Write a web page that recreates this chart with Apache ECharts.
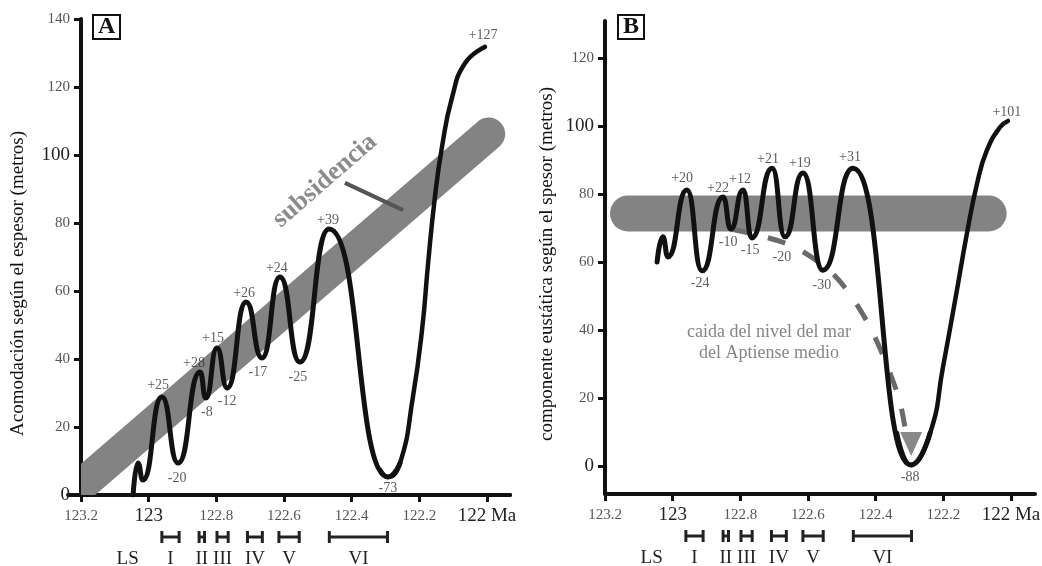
<!DOCTYPE html>
<html>
<head>
<meta charset="utf-8">
<script src="https://cdn.jsdelivr.net/npm/echarts@6/dist/echarts.min.js"></script>
<style>
html, body { margin: 0; padding: 0; background: #fff; }
#chart { width: 1042px; height: 566px; }
</style>
</head>
<body>
<div id="chart"></div>
<script>
// eje de edades (Ma) y marcas
const xTicks = [123.2, 123, 122.8, 122.6, 122.4, 122.2, 122];
const yTicksA = [0, 20, 40, 60, 80, 100, 120, 140];
const yTicksB = [0, 20, 40, 60, 80, 100, 120];

// A: acomodacion (picos y valles), luego la subida final
const curveA = [[123.046, 0], [123.032, 9.4], [123.017, 4.4], [122.961, 28.8], [122.913, 9.4],
  [122.848, 36.2], [122.831, 28.5], [122.798, 43.2], [122.768, 31.5], [122.712, 56.8],
  [122.665, 40.3], [122.612, 64.1], [122.553, 39.1], [122.467, 78.2], [122.293, 5.3], [122.257, 9.4]];
const riseA = [[122.316, 7.4], [122.293, 5.3], [122.257, 9.4], [122.219, 28.8], [122.192, 48.5],
  [122.174, 68.2], [122.154, 87.6], [122.133, 102.4], [122.103, 117], [122.065, 127], [122.006, 131.8]];
const subsidencia = [123.262, -2.5, 121.995, 106.2];
const pointerA = [[122.420, 91.8], [122.248, 83.8]];
const labelsA = [[122.972, 32.4, '+25'], [122.916, 5.0, '-20'], [122.866, 38.8, '+28'], [122.828, 24.4, '-8'],
  [122.810, 46.2, '+15'], [122.768, 27.6, '-12'], [122.718, 59.4, '+26'], [122.677, 36.2, '-17'],
  [122.621, 66.8, '+24'], [122.559, 34.7, '-25'], [122.470, 80.9, '+39'], [122.293, 2.1, '-73'],
  [122.012, 135.3, '+127']];

// B: componente eustatica
const curveB = [[123.046, 60.0], [123.029, 67.4], [123.014, 61.5], [122.958, 81.2], [122.913, 57.4],
  [122.851, 79.1], [122.828, 69.7], [122.792, 81.2], [122.766, 67.1], [122.706, 87.6],
  [122.668, 67.4], [122.615, 86.2], [122.556, 57.6], [122.467, 87.6], [122.296, 0.3], [122.239, 9.7]];
const riseB = [[122.337, 9.7], [122.296, 0.3], [122.239, 9.7], [122.201, 29.1], [122.165, 48.8],
  [122.130, 68.5], [122.100, 83.2], [122.071, 92.9], [122.032, 99.7], [122.009, 101.5]];
const bandB = [123.132, 74.3, 122.066, 74.3];
const caida = [[122.828, 69.7], [122.653, 65.0], [122.520, 55.9], [122.417, 40.9], [122.334, 20.9], [122.313, 11.2]];
const caidaHead = [122.295, 6.5];
const labelsB = [[122.972, 84.7, '+20'], [122.919, 53.8, '-24'], [122.866, 81.8, '+22'], [122.801, 84.4, '+12'],
  [122.836, 65.9, '-10'], [122.771, 63.5, '-15'], [122.718, 90.3, '+21'], [122.624, 89.1, '+19'],
  [122.677, 61.5, '-20'], [122.559, 53.2, '-30'], [122.476, 90.9, '+31'], [122.298, -3.2, '-88'],
  [122.012, 104.1, '+101']];

// secuencias
const seqNames = ['LS', 'I', 'II', 'III', 'IV', 'V', 'VI'];
const seqStart = [123.062, 122.961, 122.851, 122.798, 122.708, 122.615, 122.466];
const seqEnd = [123.062, 122.910, 122.835, 122.765, 122.664, 122.555, 122.294];

const serif = 'Liberation Serif';

function xLabel(v) {
  if (v === 123) return '{b|123}';
  if (v === 122) return '{b|122 Ma}';
  return '{s|' + v + '}';
}
function yLabel(v) {
  return (v === 0 || v === 100) ? '{b|' + v + '}' : '{s|' + v + '}';
}
const richX = {
  b: { fontFamily: serif, fontSize: 19, color: '#222', lineHeight: 20 },
  s: { fontFamily: serif, fontSize: 15, color: '#555', lineHeight: 20 }
};
const richY = {
  b: { fontFamily: serif, fontSize: 19, color: '#222' },
  s: { fontFamily: serif, fontSize: 15, color: '#555' }
};

function xAxisFor(grid, min) {
  return {
    gridIndex: grid, type: 'value', inverse: true, min: min, max: 123.2,
    axisLine: { show: true, onZero: false, lineStyle: { color: '#111', width: 4 } },
    axisTick: { show: true, length: 7, customValues: xTicks, lineStyle: { color: '#111', width: 3 } },
    axisLabel: { customValues: xTicks, margin: 11, formatter: xLabel, rich: richX },
    splitLine: { show: false }
  };
}
function yAxisFor(grid, min, max, ticks, name, gap, pad) {
  return {
    gridIndex: grid, type: 'value', min: min, max: max,
    name: name, nameLocation: 'middle', nameGap: gap, nameRotate: 90,
    nameTextStyle: { fontFamily: serif, fontSize: 19, color: '#111', padding: pad },
    axisLine: { show: true, onZero: false, lineStyle: { color: '#111', width: 4 } },
    axisTick: { show: true, length: 7, customValues: ticks, lineStyle: { color: '#111', width: 3 } },
    axisLabel: { customValues: ticks, margin: 11, formatter: yLabel, rich: richY },
    splitLine: { show: false }
  };
}

function bandRender(width) {
  return function (params, api) {
    const p0 = api.coord([api.value(0), api.value(1)]);
    const p1 = api.coord([api.value(2), api.value(3)]);
    return {
      type: 'line',
      shape: { x1: p0[0], y1: p0[1], x2: p1[0], y2: p1[1] },
      style: { stroke: '#838383', lineWidth: width, lineCap: 'round' }
    };
  };
}

function seqRender(yBase) {
  return function (params, api) {
    const i = api.value(2);
    const a = api.coord([api.value(0), yBase]);
    const b = api.coord([api.value(1), yBase]);
    const yb = a[1] + 42;
    const kids = [{
      type: 'text',
      style: {
        text: seqNames[i], x: (a[0] + b[0]) / 2, y: a[1] + 64,
        fill: '#222', fontFamily: serif, fontSize: 19, align: 'center', verticalAlign: 'middle'
      }
    }];
    if (a[0] !== b[0]) {
      const st = { stroke: '#222', lineWidth: 3 };
      kids.push({ type: 'line', shape: { x1: a[0], y1: yb, x2: b[0], y2: yb }, style: st });
      kids.push({ type: 'line', shape: { x1: a[0], y1: yb - 6, x2: a[0], y2: yb + 6 }, style: st });
      kids.push({ type: 'line', shape: { x1: b[0], y1: yb - 6, x2: b[0], y2: yb + 6 }, style: st });
    }
    return { type: 'group', children: kids };
  };
}

function textSeries(xi, yi, list, size, color) {
  return {
    type: 'scatter', xAxisIndex: xi, yAxisIndex: yi, symbolSize: 0, silent: true, z: 6,
    data: list.map(function (d) { return { value: [d[0], d[1]], name: d[2] }; }),
    label: { show: true, position: 'inside', formatter: '{b}', fontFamily: serif, fontSize: size, color: color }
  };
}

const curveStyle = { color: '#111', width: 5, cap: 'round', join: 'round' };
const riseStyle = { color: '#111', width: 4.5, cap: 'round', join: 'round' };
const seqData = seqNames.map(function (n, i) { return [seqStart[i], seqEnd[i], i]; });

const chart = echarts.init(document.getElementById('chart'));
chart.setOption({
  animation: false,
  backgroundColor: '#fff',
  title: [
    { text: 'A', left: 93, top: 15, borderColor: '#111', borderWidth: 2, padding: [0, 5, 0, 5],
      textStyle: { fontFamily: serif, fontWeight: 'bold', fontSize: 24, lineHeight: 24, color: '#111' } },
    { text: 'B', left: 618, top: 15, borderColor: '#111', borderWidth: 2, padding: [0, 5, 0, 5],
      textStyle: { fontFamily: serif, fontWeight: 'bold', fontSize: 24, lineHeight: 24, color: '#111' } }
  ],
  grid: [
    { left: 81, right: 532, top: 19, bottom: 71, outerBoundsMode: 'none' },
    { left: 68, right: 532, top: 19, bottom: 71, outerBoundsMode: 'none' },
    { left: 605, right: 7, top: 21, bottom: 72, outerBoundsMode: 'none' }
  ],
  xAxis: [
    xAxisFor(0, 121.932),
    { gridIndex: 1, type: 'value', min: 0, max: 1,
      axisLine: { show: true, onZero: false, lineStyle: { color: '#111', width: 4 } },
      axisTick: { show: false }, axisLabel: { show: false }, splitLine: { show: false } },
    xAxisFor(2, 121.929)
  ],
  yAxis: [
    yAxisFor(0, 0, 140, yTicksA, 'Acomodación según el espesor (metros)', 53, [0, 53, 0, 0]),
    { gridIndex: 1, show: false, min: 0, max: 1 },
    yAxisFor(2, -8.24, 130.9, yTicksB, 'componente eustática según el spesor (metros)', 48, [0, 13, 0, 0])
  ],
  series: [
    // ---- A ----
    { type: 'custom', xAxisIndex: 0, yAxisIndex: 0, clip: true, silent: true, z: 1,
      renderItem: bandRender(33), data: [subsidencia] },
    { type: 'line', xAxisIndex: 0, yAxisIndex: 0, data: pointerA, showSymbol: false, silent: true, z: 2,
      lineStyle: { color: '#555', width: 4 } },
    { type: 'line', xAxisIndex: 0, yAxisIndex: 0, data: curveA, smooth: 0.55, smoothMonotone: 'x',
      showSymbol: false, silent: true, z: 3, lineStyle: curveStyle },
    { type: 'line', xAxisIndex: 0, yAxisIndex: 0, data: riseA, smooth: 0.5,
      showSymbol: false, silent: true, z: 3, lineStyle: riseStyle },
    textSeries(0, 0, labelsA, 14, '#333'),
    { type: 'scatter', xAxisIndex: 0, yAxisIndex: 0, symbolSize: 0, silent: true, z: 6,
      data: [{ value: [122.479, 92.4], name: 'subsidencia' }],
      label: { show: true, position: 'inside', formatter: '{b}', rotate: 41,
        fontFamily: serif, fontSize: 26, fontWeight: 'bold', color: '#6e6e6e' } },
    { type: 'custom', xAxisIndex: 0, yAxisIndex: 0, clip: false, silent: true,
      renderItem: seqRender(0), encode: { x: [0, 1], y: 2 }, data: seqData },
    // ---- B ----
    { type: 'custom', xAxisIndex: 2, yAxisIndex: 2, clip: true, silent: true, z: 1,
      renderItem: bandRender(36), data: [bandB] },
    { type: 'line', xAxisIndex: 2, yAxisIndex: 2, data: caida, smooth: 0.3, showSymbol: false, silent: true, z: 2,
      lineStyle: { color: '#6a6a6a', width: 5, type: [18, 20] } },
    { type: 'scatter', xAxisIndex: 2, yAxisIndex: 2, data: [caidaHead], symbol: 'triangle',
      symbolSize: [22, 24], symbolRotate: 180, silent: true, z: 2, itemStyle: { color: '#6a6a6a' } },
    { type: 'line', xAxisIndex: 2, yAxisIndex: 2, data: curveB, smooth: 0.55, smoothMonotone: 'x',
      showSymbol: false, silent: true, z: 3, lineStyle: curveStyle },
    { type: 'line', xAxisIndex: 2, yAxisIndex: 2, data: riseB, smooth: 0.5,
      showSymbol: false, silent: true, z: 3, lineStyle: riseStyle },
    textSeries(2, 2, labelsB, 14, '#333'),
    { type: 'scatter', xAxisIndex: 2, yAxisIndex: 2, symbolSize: 0, silent: true, z: 6,
      data: [{ value: [122.715, 36.2], name: 'caida del nivel del mar\ndel Aptiense medio' }],
      label: { show: true, position: 'inside', formatter: '{b}', fontFamily: serif, fontSize: 18,
        lineHeight: 21, color: '#666' } },
    { type: 'custom', xAxisIndex: 2, yAxisIndex: 2, clip: false, silent: true,
      renderItem: seqRender(-8.24), encode: { x: [0, 1], y: 2 }, data: seqData }
  ]
});
</script>
</body>
</html>
